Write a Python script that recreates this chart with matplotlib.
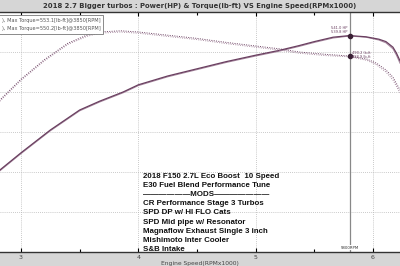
import matplotlib
matplotlib.use("Agg")
import matplotlib.pyplot as plt
from matplotlib.ticker import MultipleLocator

# ---- data ----
rpm_p1 = [2.82, 3.00, 3.25, 3.50, 3.67, 3.87, 4.00, 4.25, 4.50, 4.75, 5.00, 5.20, 5.37, 5.50, 5.66, 5.80, 5.94, 6.05, 6.11, 6.17, 6.20, 6.23]
hp_1   = [205, 248, 305, 355, 377, 400, 418, 440, 458, 476, 492, 504, 516, 526, 537, 541, 538, 532, 526, 512, 497, 478]
rpm_p2 = [2.82, 3.00, 3.25, 3.50, 3.67, 3.87, 4.00, 4.25, 4.50, 4.75, 5.00, 5.20, 5.37, 5.50, 5.66, 5.80, 5.94, 6.05, 6.11, 6.17, 6.20, 6.23]
hp_2   = [203, 246, 303, 353, 375, 398, 416, 438, 456, 474, 490, 502, 514, 524, 535, 540, 537, 530, 523, 508, 492, 472]

rpm_t1 = [2.82, 3.00, 3.20, 3.40, 3.56, 3.67, 3.85, 4.00, 4.25, 4.50, 4.75, 5.00, 5.20, 5.37, 5.60, 5.80, 5.95, 6.03, 6.11, 6.17, 6.23]
tq_1   = [380, 432, 481, 522, 542, 550, 553, 550, 542, 534, 524, 515, 508, 500, 494, 490, 482, 472, 455, 437, 405]
rpm_t2 = [2.82, 3.00, 3.20, 3.40, 3.56, 3.67, 3.85, 4.00, 4.25, 4.50, 4.75, 5.00, 5.20, 5.37, 5.60, 5.80, 5.95, 6.03, 6.11, 6.17, 6.23]
tq_2   = [377, 429, 478, 519, 539, 547, 550, 547, 539, 531, 521, 512, 505, 497, 491, 488, 479, 468, 450, 430, 398]

cursor_rpm = 5.80
cursor_hp = [541.0, 539.8]
cursor_tq = [490.2, 488.9]

legend_lines = ["), Max Torque=553.1[lb-ft]@3850[RPM]",
                "), Max Torque=550.2[lb-ft]@3850[RPM]"]
mods_lines = ["2018 F150 2.7L Eco Boost  10 Speed",
              "E30 Fuel Blend Performance Tune",
              "\u2014\u2014\u2014\u2014\u2014\u2014MODS\u2014\u2014\u2014\u2014\u2014\u2014\u2014",
              "CR Performance Stage 3 Turbos",
              "SPD DP w/ HI FLO Cats",
              "SPD Mid pipe w/ Resonator",
              "Magnaflow Exhaust Single 3 inch",
              "Mishimoto Inter Cooler",
              "S&B Intake"]
title = "2018 2.7 Bigger turbos : Power(HP) & Torque(lb-ft) VS Engine Speed(RPMx1000)"
xlabel = "Engine Speed(RPMx1000)"
xticks = [3, 4, 5, 6]

c1 = "#6a3f60"
c2 = "#a88aa0"

fig = plt.figure(figsize=(4.0, 2.66), dpi=100)
fig.patch.set_facecolor("#d6d6d6")
ax = fig.add_axes([0.0, 14/266, 1.0, 240/266])
ax.set_facecolor("white")
ax.set_xlim(2.821, 6.230)
ax.set_ylim(0, 600)

ax.plot(rpm_p2, hp_2, color=c2, lw=0.8)
ax.plot(rpm_p1, hp_1, color=c1, lw=0.9)
ax.plot(rpm_t2, tq_2, color=c2, lw=0.7, ls=(0, (1, 1.4)))
ax.plot(rpm_t1, tq_1, color=c1, lw=0.7, ls=(0.8, (1, 1.4)))

ax.axvline(cursor_rpm, color="#888888", lw=0.9)
ax.plot([cursor_rpm, cursor_rpm], [cursor_hp[0], cursor_tq[0]], ls="none",
        marker="o", ms=3, color="#3a2035")
ax.text(cursor_rpm - 0.02, cursor_hp[0] + 4, f"{cursor_hp[0]:.1f} HP\n{cursor_hp[1]:.1f} HP",
        fontsize=2.6, color=c1, ha="right", va="bottom", linespacing=1.0)
ax.text(cursor_rpm + 0.02, cursor_tq[0] + 2, f"{cursor_tq[0]:.1f} lb-ft\n{cursor_tq[1]:.1f} lb-ft",
        fontsize=2.6, color=c1, ha="left", va="center", linespacing=1.0)
ax.text(cursor_rpm, 6, f"{int(cursor_rpm*1000)}RPM", fontsize=2.8, ha="center", va="bottom",
        color="#333333", bbox=dict(boxstyle="square,pad=0.15", fc="white", ec="none"))

ax.set_xticks(xticks)
ax.xaxis.set_minor_locator(MultipleLocator(0.5))
ax.set_yticks([100, 200, 300, 400, 500])
ax.grid(True, which="major", color="#b8b8b8", lw=0.6, ls=(0, (1, 1.5)))
ax.tick_params(axis="x", which="both", direction="in", top=True, bottom=True,
               labelsize=4.5, labelcolor="#444444", pad=2, length=3, width=0.8)
ax.tick_params(axis="x", which="minor", length=2)
ax.tick_params(axis="y", left=False, right=False, labelleft=False)
for s in ["left", "right"]:
    ax.spines[s].set_visible(False)
for s in ["top", "bottom"]:
    ax.spines[s].set_linewidth(1.0)
    ax.spines[s].set_color("#333333")

ax.set_xlabel(xlabel, fontsize=4.3, color="#444444", labelpad=1)

fig.text(0.5, 1 - 6/266, title, ha="center", va="center", fontsize=4.95,
         fontweight="bold", color="#333333")

# legend box
leg_txt = "\n".join(legend_lines)
ax.text(0.004, 0.975, leg_txt, transform=ax.transAxes, fontsize=3.6, color="#555555",
        ha="left", va="top", linespacing=1.7,
        bbox=dict(boxstyle="square,pad=0.55", fc="white", ec="#777777", lw=0.6))

# mods text
y0 = 176
for i, line in enumerate(mods_lines):
    fig.text(143/400, 1 - (y0 + i*9.2)/266, line, fontsize=5.7, fontweight="bold",
             family="Liberation Sans", ha="left", va="center", color="#111111")

fig.savefig("out.png", dpi=100, facecolor=fig.get_facecolor())
